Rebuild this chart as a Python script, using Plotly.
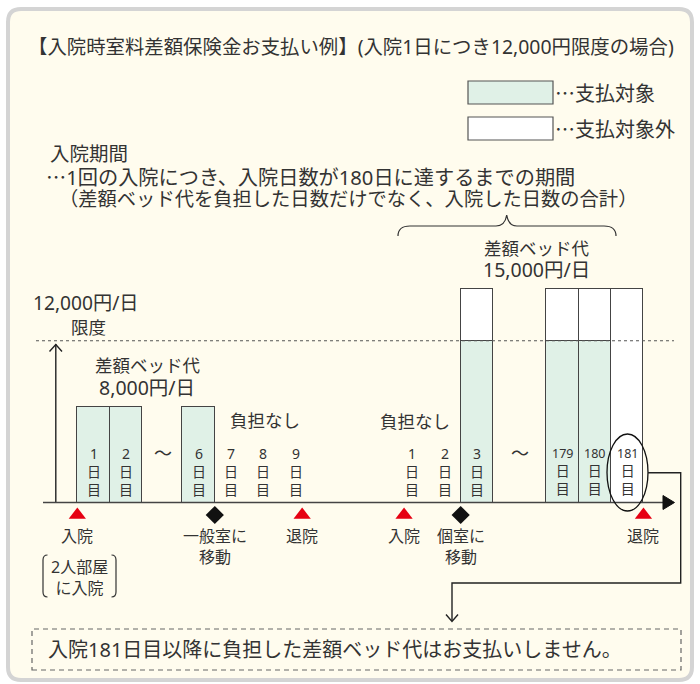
import plotly.graph_objects as go

# ---------------- data ----------------
# timeline positions (in day-slot units) of each drawn day
day_pos = [0, 1, 3.25, 4.25, 5.25, 6.25, 9.85, 10.85, 11.85, 14.5, 15.5, 16.5]
day_labels = ["1", "2", "6", "7", "8", "9", "1", "2", "3", "179", "180", "181"]
# schematic bar heights as drawn (limit line = 12,000)
covered_amount = [7100, 7100, 7100, 0, 0, 0, 0, 0, 12000, 12000, 12000, 0]
uncovered_amount = [0, 0, 0, 0, 0, 0, 0, 0, 3800, 3800, 3800, 15800]
limit_amount = 12000

event_pos = [-0.5, 3.75, 6.45, 9.6, 11.35, 17.0]
event_labels = ["入院", "一般室に<br>移動", "退院", "入院", "個室に<br>移動", "退院"]
event_kind = ["in", "move", "out", "in", "move", "out"]

title_text = "【入院時室料差額保険金お支払い例】(入院1日につき12,000円限度の場合)"
legend_labels = ["…支払対象", "…支払対象外"]
period_lines = ["入院期間", "1回の入院につき、入院日数が180日に達するまでの期間",
                "（差額ベッド代を負担した日数だけでなく、入院した日数の合計）"]
bed_charge_titles = ["差額ベッド代", "差額ベッド代"]
bed_charge_amounts = ["8,000円/日", "15,000円/日"]
limit_label = ["12,000円/日", "限度"]
note_text = "入院181日目以降に負担した差額ベッド代はお支払いしません。"

# ---------------- style ----------------
W, H = 700, 684
FONT = "Noto Sans, Noto Sans CJK JP"
FONT_CJK = "Noto Sans CJK JP"
TXT = "#333333"
GREEN = "#e0f1e7"
CREAM = "#fffcee"
EDGE = "#444444"

SLOT_PX = 32.35
X0_PX = 93.5
BASE_PX = 502.5
LIMIT_PX = 340.7
K = limit_amount / (BASE_PX - LIMIT_PX)  # value per pixel


def px(x):
    return x / W


def py(y):
    return 1 - y / H


def P(x, y):
    return f"{px(x):.5f},{py(y):.5f}"


fig = go.Figure()

# bars (stacked)
cx = [p for p, v in zip(day_pos, covered_amount) if v > 0]
cy = [v for v in covered_amount if v > 0]
ux = [p for p, v in zip(day_pos, uncovered_amount) if v > 0]
uy = [v for v in uncovered_amount if v > 0]
fig.add_trace(go.Bar(x=cx, y=cy, width=1.0, marker=dict(color=GREEN, line=dict(color=EDGE, width=1.3)),
                     hoverinfo="skip", showlegend=False))
fig.add_trace(go.Bar(x=ux, y=uy, width=1.0, marker=dict(color="white", line=dict(color=EDGE, width=1.3)),
                     hoverinfo="skip", showlegend=False))

# event markers
marker_y = -(515 - BASE_PX) * K
fig.add_trace(go.Scatter(
    x=event_pos, y=[marker_y] * len(event_pos), mode="markers",
    marker=dict(symbol=["diamond" if k == "move" else "triangle-up" for k in event_kind],
                color=["#111111" if k == "move" else "#e60012" for k in event_kind],
                size=[14 if k == "move" else 15 for k in event_kind], line=dict(width=0), opacity=1),
    hoverinfo="skip", showlegend=False))

shapes = []
ann = []


def txt(x, y, s, size=17, anchor="center", yanchor="middle", color=TXT, family=FONT):
    ann.append(dict(x=px(x), y=py(y), xref="paper", yref="paper", text=s,
                    showarrow=False, xanchor=anchor, yanchor=yanchor,
                    font=dict(family=family, size=size, color=color)))


# background & outer rounded frame
r = 13
x0, y0, x1, y1 = 8, 9, 692, 680
frame = (f"M {P(x0 + r, y0)} L {P(x1 - r, y0)} Q {P(x1, y0)} {P(x1, y0 + r)} L {P(x1, y1 - r)} "
         f"Q {P(x1, y1)} {P(x1 - r, y1)} L {P(x0 + r, y1)} Q {P(x0, y1)} {P(x0, y1 - r)} "
         f"L {P(x0, y0 + r)} Q {P(x0, y0)} {P(x0 + r, y0)} Z")
shapes.append(dict(type="path", path=frame, xref="paper", yref="paper", fillcolor=CREAM,
                   line=dict(color="#d4d4d4", width=4), layer="below"))

# legend boxes
shapes.append(dict(type="rect", xref="paper", yref="paper", x0=px(468), x1=px(553), y0=py(104), y1=py(81),
                   fillcolor=GREEN, line=dict(color="#555", width=1.2)))
shapes.append(dict(type="rect", xref="paper", yref="paper", x0=px(468), x1=px(553), y0=py(140), y1=py(117),
                   fillcolor="white", line=dict(color="#555", width=1.2)))
txt(553, 92, legend_labels[0], 20, "left", family=FONT_CJK)
txt(553, 128, legend_labels[1], 20, "left", family=FONT_CJK)

# title and description
txt(26, 47, title_text, 19.4, "left")
txt(48, 153, period_lines[0], 19.5, "left")
txt(44, 176, "<span style='font-family:Noto Sans CJK JP'>…</span>" + period_lines[1], 20.2, "left")
txt(57, 198, period_lines[2], 19.3, "left")

# brace
brace = (f"M {P(398, 236)} Q {P(398, 226)} {P(410, 226)} L {P(496, 226)} Q {P(505, 226)} {P(506.7, 215)} "
         f"Q {P(508.5, 226)} {P(517, 226)} L {P(604, 226)} Q {P(616, 226)} {P(616, 236)}")
shapes.append(dict(type="path", path=brace, xref="paper", yref="paper", line=dict(color="#333", width=1.2)))

# bed charge captions
txt(536.7, 248, bed_charge_titles[1], 17.5)
txt(536.7, 269.5, bed_charge_amounts[1], 19.5)
txt(148, 365, bed_charge_titles[0], 17.5)
txt(147, 387, bed_charge_amounts[0], 19.5)
txt(31, 303, limit_label[0], 19.2, "left")
txt(88, 327, limit_label[1], 17.5)

# limit line
shapes.append(dict(type="line", xref="paper", yref="y", x0=px(36), x1=px(674), y0=limit_amount, y1=limit_amount,
                   line=dict(color="#555", width=1.1, dash="3px,3px"), layer="above"))

# vertical arrow
shapes.append(dict(type="path", xref="paper", yref="paper", path=f"M {P(55.8, BASE_PX)} L {P(55.8, 344)}",
                   line=dict(color="#222", width=1.4)))
shapes.append(dict(type="path", xref="paper", yref="paper",
                   path=f"M {P(49.5, 351.5)} L {P(55.8, 344.5)} L {P(62, 351.5)}",
                   line=dict(color="#222", width=1.4)))

# baseline arrow
shapes.append(dict(type="path", xref="paper", yref="paper", path=f"M {P(43, BASE_PX)} L {P(665, BASE_PX)}",
                   line=dict(color="#444", width=1.4), layer="above"))
shapes.append(dict(type="path", xref="paper", yref="paper",
                   path=f"M {P(663, 495.5)} L {P(674.5, BASE_PX)} L {P(663, 509.5)} Z",
                   fillcolor="#111", line=dict(color="#111", width=1)))

# "負担なし"
txt(265, 420, "負担なし", 17.5)
txt(415, 421, "負担なし", 17.5)

# tildes
txt(163, 452, "～", 18, family=FONT_CJK)
txt(520, 452, "～", 18, family=FONT_CJK)

# day labels (vertical stack: number / 日 / 目)
for p, lab in zip(day_pos, day_labels):
    big = len(lab) >= 3
    num = f"<span style='font-size:12.5px'>{lab}</span>" if big else lab
    ann.append(dict(x=p, y=py(471), xref="x", yref="paper", text=f"{num}<br>日<br>目", showarrow=False,
                    xanchor="center", yanchor="middle",
                    font=dict(family=FONT, size=14, color=TXT)))

# event labels
for p, lab in zip(event_pos, event_labels):
    ann.append(dict(x=p, y=py(523), xref="x", yref="paper", text=lab, showarrow=False,
                    xanchor="center", yanchor="top", font=dict(family=FONT, size=16, color=TXT)))

# 2人部屋に入院 with brackets
txt(79, 577, "2人部屋<br>に入院", 16)
shapes.append(dict(type="path", xref="paper", yref="paper",
                   path=f"M {P(47.5, 555)} Q {P(43, 555)} {P(43, 560)} L {P(43, 592)} Q {P(43, 597)} {P(47.5, 597)}",
                   line=dict(color="#333", width=1.2)))
shapes.append(dict(type="path", xref="paper", yref="paper",
                   path=f"M {P(111.5, 555)} Q {P(116, 555)} {P(116, 560)} L {P(116, 592)} Q {P(116, 597)} {P(111.5, 597)}",
                   line=dict(color="#333", width=1.2)))

# ellipse around day 181
shapes.append(dict(type="circle", xref="paper", yref="paper", x0=px(607), x1=px(648), y0=py(511), y1=py(434),
                   line=dict(color="#111", width=1.3), layer="above"))

# connector to note
conn = f"M {P(648, 472.7)} L {P(680.7, 472.7)} L {P(680.7, 583)} L {P(452, 583)} L {P(452, 621)}"
shapes.append(dict(type="path", xref="paper", yref="paper", path=conn, line=dict(color="#222", width=1.4)))
shapes.append(dict(type="path", xref="paper", yref="paper",
                   path=f"M {P(446, 614.5)} L {P(452, 621.5)} L {P(458, 614.5)}",
                   line=dict(color="#222", width=1.4)))

# note box
shapes.append(dict(type="rect", xref="paper", yref="paper", x0=px(32), x1=px(681), y0=py(670), y1=py(629),
                   line=dict(color="#666", width=1.2, dash="5px,4px")))
txt(46, 649, note_text, 20, "left")

xr = [-X0_PX / SLOT_PX, (W - X0_PX) / SLOT_PX]
yr = [-(H - BASE_PX) * K, BASE_PX * K]

fig.update_layout(
    width=W, height=H, margin=dict(l=0, r=0, t=0, b=0),
    paper_bgcolor="white", plot_bgcolor="rgba(0,0,0,0)",
    barmode="stack", bargap=0,
    xaxis=dict(range=xr, visible=False, fixedrange=True),
    yaxis=dict(range=yr, visible=False, fixedrange=True),
    shapes=shapes, annotations=ann, showlegend=False,
)

fig.write_html("out.html", config={"displayModeBar": False},
               post_script="document.body.style.margin='0';document.body.style.overflow='hidden';")
